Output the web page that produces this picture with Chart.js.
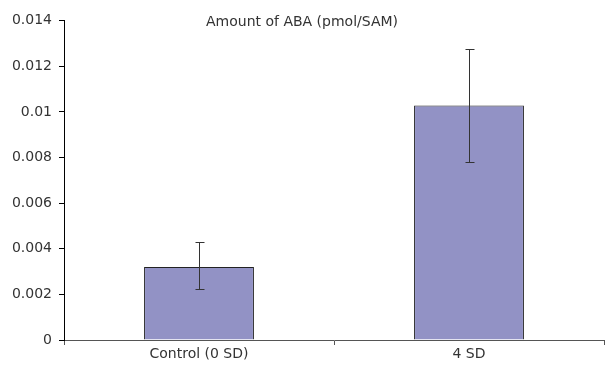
<!DOCTYPE html>
<html>
<head>
<meta charset="utf-8">
<script src="https://cdn.jsdelivr.net/npm/chart.js@4/dist/chart.umd.min.js"></script>
<style>
  html, body { margin: 0; padding: 0; background: #fff; }
  #wrap { width: 606px; height: 368px; }
</style>
</head>
<body>
<div id="wrap"><canvas id="abaChart" width="606" height="368"></canvas></div>
<script>
// Data
const categories = ['Control (0 SD)', '4 SD'];
const abaValues = [0.0032, 0.01028];
const errLow = [0.00223, 0.00779];
const errHigh = [0.00429, 0.01277];
const yTicks = [0, 0.002, 0.004, 0.006, 0.008, 0.01, 0.012, 0.014];

const FONT = 'DejaVu Sans, Verdana, sans-serif';

// Error bars drawn on top of the bars
const errorBars = {
  id: 'errorBars',
  afterDatasetsDraw(chart) {
    const ctx = chart.ctx;
    const y = chart.scales.y;
    const meta = chart.getDatasetMeta(0);
    ctx.save();
    ctx.strokeStyle = '#333';
    ctx.lineWidth = 1;
    meta.data.forEach((bar, i) => {
      const x = Math.round(bar.x) + 0.5;
      const top = Math.round(y.getPixelForValue(errHigh[i])) + 0.5;
      const bot = Math.round(y.getPixelForValue(errLow[i])) + 0.5;
      ctx.beginPath();
      ctx.moveTo(x, top); ctx.lineTo(x, bot);
      ctx.moveTo(x - 4, top); ctx.lineTo(x + 5, top);
      ctx.moveTo(x - 4, bot); ctx.lineTo(x + 5, bot);
      ctx.stroke();
    });
    ctx.restore();
  }
};

new Chart(document.getElementById('abaChart'), {
  type: 'bar',
  data: {
    labels: categories,
    datasets: [{
      data: abaValues,
      backgroundColor: '#9292c5',
      borderColor: '#222',
      borderWidth: 1,
      barPercentage: 0.407,
      categoryPercentage: 1
    }]
  },
  options: {
    responsive: false,
    animation: false,
    layout: { padding: { left: 0, right: 2, top: 0, bottom: 0 } },
    plugins: {
      legend: { display: false },
      tooltip: { enabled: false },
      title: {
        display: true,
        text: 'Amount of ABA (pmol/SAM)',
        color: '#333',
        font: { family: FONT, size: 14, weight: 'normal', lineHeight: 1.2 },
        padding: { top: 14, bottom: -10 }
      }
    },
    scales: {
      x: {
        afterFit: axis => { axis.height = 28; },
        grid: { display: true, drawOnChartArea: false, drawTicks: true, tickLength: 5, color: '#555', offset: true },
        border: { display: true, color: '#555' },
        ticks: { color: '#333', font: { family: FONT, size: 14 }, padding: 1 }
      },
      y: {
        min: 0,
        max: 0.014,
        afterBuildTicks: axis => { axis.ticks = yTicks.map(v => ({ value: v })); },
        afterFit: axis => { axis.width = 64; },
        grid: { display: true, drawOnChartArea: false, drawTicks: true, tickLength: 5, color: '#000' },
        border: { display: true, color: '#000' },
        ticks: {
          color: '#333',
          font: { family: FONT, size: 14 },
          padding: 7,
          callback: v => String(+Number(v).toFixed(3))
        }
      }
    }
  },
  plugins: [errorBars]
});
</script>
</body>
</html>
